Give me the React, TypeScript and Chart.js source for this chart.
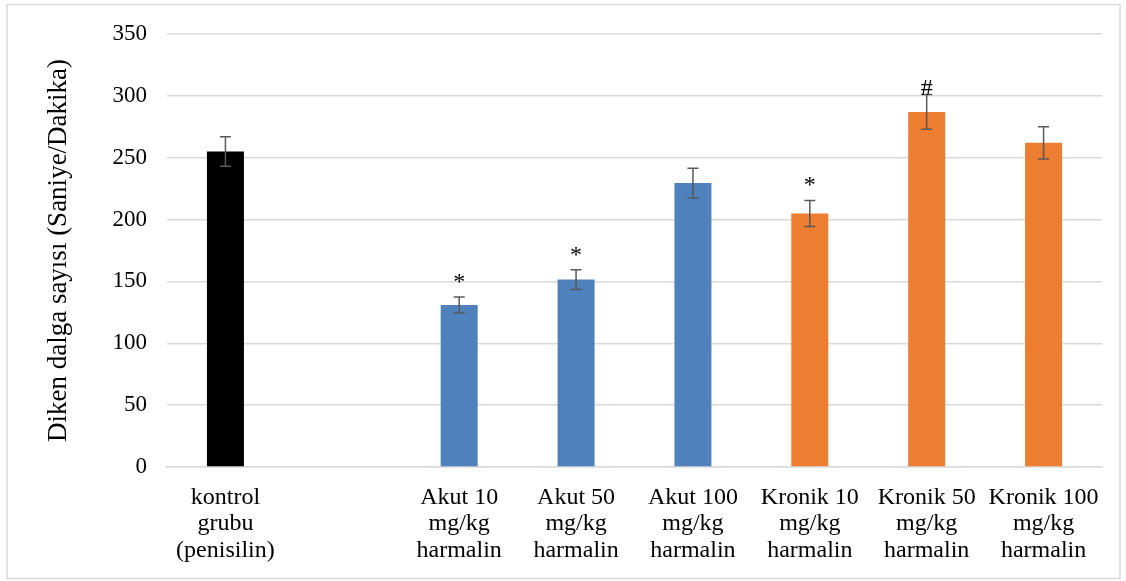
import React, { useEffect, useRef } from "react";
import { Chart, registerables } from "chart.js";

Chart.register(...registerables);

const categories: (string | string[])[] = [
  ["kontrol", "grubu", "(penisilin)"],
  "",
  ["Akut 10", "mg/kg", "harmalin"],
  ["Akut 50", "mg/kg", "harmalin"],
  ["Akut 100", "mg/kg", "harmalin"],
  ["Kronik 10", "mg/kg", "harmalin"],
  ["Kronik 50", "mg/kg", "harmalin"],
  ["Kronik 100", "mg/kg", "harmalin"],
];
const values: (number | null)[] = [255, null, 131, 151.5, 229.5, 205, 287, 262];
const errors: (number | null)[] = [12, null, 6.5, 8, 12, 10.5, 14, 13];
const markers: string[] = ["", "", "*", "*", "", "*", "#", ""];
const barColors: string[] = [
  "#000000",
  "#000000",
  "#4F81BD",
  "#4F81BD",
  "#4F81BD",
  "#ED7D31",
  "#ED7D31",
  "#ED7D31",
];
const yTicks: number[] = [0, 50, 100, 150, 200, 250, 300, 350];
const yTitle = "Diken dalga sayısı (Saniye/Dakika)";

const FONT = "'Liberation Serif', 'Times New Roman', serif";

const W = 1126;
const H = 581;

export default function App() {
  const ref = useRef<HTMLCanvasElement | null>(null);

  useEffect(() => {
    document.body.style.margin = "0";
    const canvas = ref.current;
    if (!canvas) return;

    const decorPlugin = {
      id: "decor",
      beforeDraw(chart: any) {
        const ctx = chart.ctx;
        ctx.save();
        ctx.fillStyle = "#ffffff";
        ctx.fillRect(0, 0, chart.width, chart.height);
        ctx.strokeStyle = "#d9d9d9";
        ctx.lineWidth = 1.5;
        ctx.strokeRect(7, 4.5, 1113, 574);
        ctx.restore();
      },
      afterDatasetsDraw(chart: any) {
        const ctx = chart.ctx;
        const meta = chart.getDatasetMeta(0);
        const y = chart.scales.y;
        ctx.save();
        meta.data.forEach((bar: any, i: number) => {
          const v = values[i];
          const e = errors[i];
          if (v == null || e == null) return;
          const x = bar.x;
          const yTop = y.getPixelForValue(v + e);
          const yBot = y.getPixelForValue(v - e);
          ctx.strokeStyle = "#595959";
          ctx.lineWidth = 1.5;
          ctx.beginPath();
          ctx.moveTo(x, yTop);
          ctx.lineTo(x, yBot);
          ctx.moveTo(x - 5.5, yTop);
          ctx.lineTo(x + 5.5, yTop);
          ctx.moveTo(x - 5.5, yBot);
          ctx.lineTo(x + 5.5, yBot);
          ctx.stroke();
          const m = markers[i];
          if (m) {
            ctx.fillStyle = "#000000";
            ctx.font = `24px ${FONT}`;
            ctx.textAlign = "center";
            ctx.textBaseline = "alphabetic";
            const gap = m === "*" ? 8 : 0;
            ctx.fillText(m, x, yTop - gap);
          }
        });
        ctx.restore();
      },
    };

    const chart = new Chart(canvas, {
      type: "bar",
      data: {
        labels: categories,
        datasets: [
          {
            data: values,
            backgroundColor: barColors,
            borderWidth: 0,
            barPercentage: 0.3166,
            categoryPercentage: 1,
          },
        ],
      },
      options: {
        animation: false,
        responsive: false,
        maintainAspectRatio: false,
        devicePixelRatio: 1,
        layout: { padding: { left: 0, right: 24, top: 34, bottom: 0 } },
        plugins: {
          legend: { display: false },
          tooltip: { enabled: false },
        },
        scales: {
          x: {
            grid: { display: false, drawTicks: false },
            border: { display: true, color: "#d9d9d9", width: 1.5 },
            ticks: {
              color: "#000000",
              font: { family: FONT, size: 24, lineHeight: 1.11 },
              padding: 17,
              maxRotation: 0,
              autoSkip: false,
            },
            afterFit(scale: any) {
              scale.height = 114;
            },
          },
          y: {
            min: 0,
            max: 350,
            afterBuildTicks(scale: any) {
              scale.ticks = yTicks.map((v) => ({ value: v }));
            },
            grid: { color: "#d9d9d9", lineWidth: 1.5, drawTicks: false },
            border: { display: false },
            ticks: {
              color: "#000000",
              font: { family: FONT, size: 23 },
              padding: 20,
            },
            title: {
              display: true,
              text: yTitle,
              color: "#000000",
              font: { family: FONT, size: 27, lineHeight: 1.2 },
              padding: { top: 43, bottom: 0 },
            },
            afterFit(scale: any) {
              scale.width = 167;
            },
          },
        },
      },
      plugins: [decorPlugin],
    });

    return () => chart.destroy();
  }, []);

  return (
    <div style={{ width: W, height: H, position: "relative" }}>
      <canvas ref={ref} width={W} height={H} style={{ width: W, height: H, display: "block" }} />
    </div>
  );
}
